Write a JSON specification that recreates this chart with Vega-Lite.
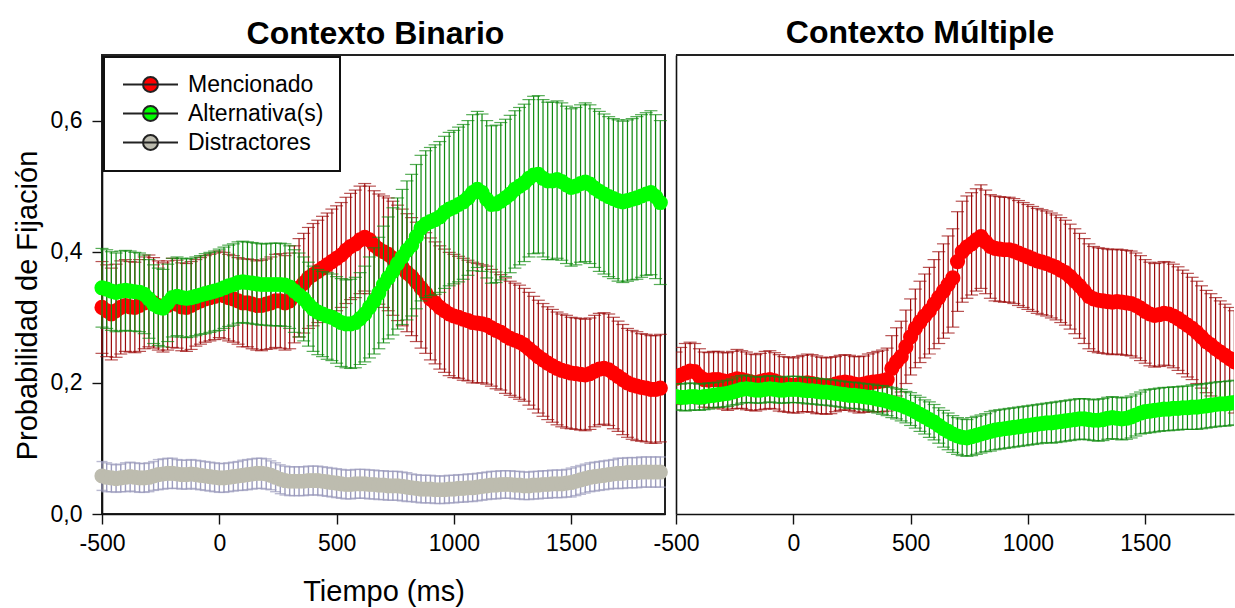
{
"$schema":"https://vega.github.io/schema/vega-lite/v6.json",
"padding":{"left":12,"top":17,"right":0,"bottom":4},
"bounds":"flush",
"spacing":11,
"config":{
"font":"Liberation Sans",
"view":{"stroke":"#222","strokeWidth":2},
"axis":{"grid":false,"domainColor":"#111","domainWidth":1.6,"tickColor":"#111","tickWidth":1.4,"tickSize":10,"labelFont":"Liberation Sans","labelFontSize":23,"labelColor":"#000","titleFont":"Liberation Sans","titleFontSize":29,"titleFontWeight":"normal","titleColor":"#000"},
"title":{"font":"Liberation Sans","fontSize":32,"fontWeight":"bold","color":"#000","offset":4,"anchor":"middle"},
"legend":{"strokeWidth":2,"symbolStrokeColor":"#222222","symbolStrokeWidth":2}
},
"datasets":{
"LM":[
{"t":-500,"m":0.315,"e":0.07},{"t":-480,"m":0.31,"e":0.07},{"t":-460,"m":0.305,"e":0.07},{"t":-440,"m":0.31,"e":0.071},{"t":-420,"m":0.315,"e":0.071},{"t":-400,"m":0.318,"e":0.07},{"t":-380,"m":0.316,"e":0.069},{"t":-360,"m":0.315,"e":0.069},{"t":-340,"m":0.318,"e":0.07},{"t":-320,"m":0.322,"e":0.07},
{"t":-300,"m":0.325,"e":0.07},{"t":-280,"m":0.322,"e":0.069},{"t":-260,"m":0.318,"e":0.068},{"t":-240,"m":0.315,"e":0.068},{"t":-220,"m":0.318,"e":0.068},{"t":-200,"m":0.322,"e":0.068},{"t":-180,"m":0.32,"e":0.067},{"t":-160,"m":0.316,"e":0.067},{"t":-140,"m":0.315,"e":0.067},{"t":-120,"m":0.318,"e":0.067},
{"t":-100,"m":0.322,"e":0.066},{"t":-80,"m":0.325,"e":0.066},{"t":-60,"m":0.328,"e":0.066},{"t":-40,"m":0.33,"e":0.066},{"t":-20,"m":0.332,"e":0.066},{"t":0,"m":0.335,"e":0.066},{"t":20,"m":0.333,"e":0.066},{"t":40,"m":0.33,"e":0.066},{"t":60,"m":0.328,"e":0.066},{"t":80,"m":0.325,"e":0.066},
{"t":100,"m":0.322,"e":0.067},{"t":120,"m":0.322,"e":0.067},{"t":140,"m":0.32,"e":0.068},{"t":160,"m":0.318,"e":0.068},{"t":180,"m":0.318,"e":0.069},{"t":200,"m":0.32,"e":0.069},{"t":220,"m":0.322,"e":0.07},{"t":240,"m":0.325,"e":0.071},{"t":260,"m":0.325,"e":0.072},{"t":280,"m":0.322,"e":0.072},
{"t":300,"m":0.325,"e":0.073},{"t":320,"m":0.335,"e":0.074},{"t":340,"m":0.345,"e":0.075},{"t":360,"m":0.352,"e":0.076},{"t":380,"m":0.36,"e":0.077},{"t":400,"m":0.365,"e":0.078},{"t":420,"m":0.37,"e":0.078},{"t":440,"m":0.375,"e":0.079},{"t":460,"m":0.38,"e":0.079},{"t":480,"m":0.385,"e":0.08},
{"t":500,"m":0.39,"e":0.08},{"t":520,"m":0.395,"e":0.08},{"t":540,"m":0.402,"e":0.081},{"t":560,"m":0.408,"e":0.081},{"t":580,"m":0.412,"e":0.082},{"t":600,"m":0.418,"e":0.082},{"t":620,"m":0.422,"e":0.082},{"t":640,"m":0.418,"e":0.082},{"t":660,"m":0.41,"e":0.083},{"t":680,"m":0.404,"e":0.084},
{"t":700,"m":0.4,"e":0.085},{"t":720,"m":0.396,"e":0.086},{"t":740,"m":0.39,"e":0.087},{"t":760,"m":0.383,"e":0.088},{"t":780,"m":0.376,"e":0.089},{"t":800,"m":0.368,"e":0.09},{"t":820,"m":0.362,"e":0.09},{"t":840,"m":0.354,"e":0.091},{"t":860,"m":0.345,"e":0.092},{"t":880,"m":0.337,"e":0.092},
{"t":900,"m":0.328,"e":0.093},{"t":920,"m":0.322,"e":0.093},{"t":940,"m":0.315,"e":0.094},{"t":960,"m":0.31,"e":0.094},{"t":980,"m":0.305,"e":0.094},{"t":1000,"m":0.302,"e":0.094},{"t":1020,"m":0.3,"e":0.093},{"t":1040,"m":0.297,"e":0.093},{"t":1060,"m":0.295,"e":0.092},{"t":1080,"m":0.292,"e":0.092},
{"t":1100,"m":0.291,"e":0.091},{"t":1120,"m":0.29,"e":0.09},{"t":1140,"m":0.288,"e":0.09},{"t":1160,"m":0.284,"e":0.089},{"t":1180,"m":0.28,"e":0.089},{"t":1200,"m":0.277,"e":0.088},{"t":1220,"m":0.272,"e":0.088},{"t":1240,"m":0.268,"e":0.087},{"t":1260,"m":0.265,"e":0.087},{"t":1280,"m":0.262,"e":0.087},
{"t":1300,"m":0.258,"e":0.086},{"t":1320,"m":0.252,"e":0.086},{"t":1340,"m":0.246,"e":0.086},{"t":1360,"m":0.24,"e":0.086},{"t":1380,"m":0.235,"e":0.086},{"t":1400,"m":0.23,"e":0.086},{"t":1420,"m":0.226,"e":0.086},{"t":1440,"m":0.222,"e":0.086},{"t":1460,"m":0.219,"e":0.086},{"t":1480,"m":0.217,"e":0.086},
{"t":1500,"m":0.215,"e":0.085},{"t":1520,"m":0.214,"e":0.085},{"t":1540,"m":0.213,"e":0.085},{"t":1560,"m":0.212,"e":0.085},{"t":1580,"m":0.214,"e":0.085},{"t":1600,"m":0.218,"e":0.085},{"t":1620,"m":0.221,"e":0.085},{"t":1640,"m":0.222,"e":0.085},{"t":1660,"m":0.22,"e":0.085},{"t":1680,"m":0.215,"e":0.085},
{"t":1700,"m":0.21,"e":0.084},{"t":1720,"m":0.205,"e":0.084},{"t":1740,"m":0.2,"e":0.083},{"t":1760,"m":0.197,"e":0.083},{"t":1780,"m":0.195,"e":0.083},{"t":1800,"m":0.193,"e":0.082},{"t":1820,"m":0.192,"e":0.082},{"t":1840,"m":0.19,"e":0.082},{"t":1860,"m":0.19,"e":0.082},{"t":1880,"m":0.192,"e":0.082}
],
"LA":[
{"t":-500,"m":0.345,"e":0.06},{"t":-480,"m":0.343,"e":0.06},{"t":-460,"m":0.34,"e":0.06},{"t":-440,"m":0.338,"e":0.06},{"t":-420,"m":0.34,"e":0.061},{"t":-400,"m":0.341,"e":0.061},{"t":-380,"m":0.34,"e":0.061},{"t":-360,"m":0.339,"e":0.06},{"t":-340,"m":0.338,"e":0.06},{"t":-320,"m":0.335,"e":0.06},
{"t":-300,"m":0.328,"e":0.06},{"t":-280,"m":0.32,"e":0.06},{"t":-260,"m":0.316,"e":0.059},{"t":-240,"m":0.314,"e":0.059},{"t":-220,"m":0.322,"e":0.059},{"t":-200,"m":0.33,"e":0.06},{"t":-180,"m":0.332,"e":0.06},{"t":-160,"m":0.33,"e":0.06},{"t":-140,"m":0.329,"e":0.06},{"t":-120,"m":0.33,"e":0.06},
{"t":-100,"m":0.332,"e":0.06},{"t":-80,"m":0.334,"e":0.06},{"t":-60,"m":0.336,"e":0.061},{"t":-40,"m":0.338,"e":0.061},{"t":-20,"m":0.34,"e":0.061},{"t":0,"m":0.342,"e":0.062},{"t":20,"m":0.345,"e":0.062},{"t":40,"m":0.348,"e":0.062},{"t":60,"m":0.35,"e":0.062},{"t":80,"m":0.353,"e":0.062},
{"t":100,"m":0.354,"e":0.062},{"t":120,"m":0.353,"e":0.062},{"t":140,"m":0.352,"e":0.062},{"t":160,"m":0.351,"e":0.062},{"t":180,"m":0.35,"e":0.062},{"t":200,"m":0.35,"e":0.062},{"t":220,"m":0.35,"e":0.063},{"t":240,"m":0.35,"e":0.063},{"t":260,"m":0.35,"e":0.063},{"t":280,"m":0.349,"e":0.063},
{"t":300,"m":0.346,"e":0.063},{"t":320,"m":0.34,"e":0.063},{"t":340,"m":0.334,"e":0.064},{"t":360,"m":0.328,"e":0.064},{"t":380,"m":0.32,"e":0.064},{"t":400,"m":0.313,"e":0.065},{"t":420,"m":0.308,"e":0.065},{"t":440,"m":0.305,"e":0.065},{"t":460,"m":0.302,"e":0.066},{"t":480,"m":0.3,"e":0.066},
{"t":500,"m":0.296,"e":0.066},{"t":520,"m":0.292,"e":0.067},{"t":540,"m":0.29,"e":0.067},{"t":560,"m":0.29,"e":0.068},{"t":580,"m":0.292,"e":0.069},{"t":600,"m":0.298,"e":0.07},{"t":620,"m":0.305,"e":0.073},{"t":640,"m":0.315,"e":0.077},{"t":660,"m":0.325,"e":0.081},{"t":680,"m":0.337,"e":0.085},
{"t":700,"m":0.35,"e":0.089},{"t":720,"m":0.36,"e":0.093},{"t":740,"m":0.37,"e":0.097},{"t":760,"m":0.382,"e":0.1},{"t":780,"m":0.392,"e":0.103},{"t":800,"m":0.402,"e":0.106},{"t":820,"m":0.41,"e":0.108},{"t":840,"m":0.423,"e":0.11},{"t":860,"m":0.436,"e":0.111},{"t":880,"m":0.442,"e":0.112},
{"t":900,"m":0.446,"e":0.113},{"t":920,"m":0.449,"e":0.114},{"t":940,"m":0.453,"e":0.115},{"t":960,"m":0.46,"e":0.116},{"t":980,"m":0.465,"e":0.117},{"t":1000,"m":0.468,"e":0.117},{"t":1020,"m":0.472,"e":0.118},{"t":1040,"m":0.476,"e":0.118},{"t":1060,"m":0.482,"e":0.118},{"t":1080,"m":0.49,"e":0.119},
{"t":1100,"m":0.495,"e":0.119},{"t":1120,"m":0.49,"e":0.12},{"t":1140,"m":0.48,"e":0.12},{"t":1160,"m":0.472,"e":0.12},{"t":1180,"m":0.473,"e":0.12},{"t":1200,"m":0.477,"e":0.12},{"t":1220,"m":0.482,"e":0.12},{"t":1240,"m":0.488,"e":0.12},{"t":1260,"m":0.495,"e":0.12},{"t":1280,"m":0.5,"e":0.12},
{"t":1300,"m":0.505,"e":0.12},{"t":1320,"m":0.512,"e":0.12},{"t":1340,"m":0.517,"e":0.12},{"t":1360,"m":0.518,"e":0.12},{"t":1380,"m":0.512,"e":0.12},{"t":1400,"m":0.508,"e":0.12},{"t":1420,"m":0.508,"e":0.12},{"t":1440,"m":0.51,"e":0.12},{"t":1460,"m":0.507,"e":0.12},{"t":1480,"m":0.502,"e":0.12},
{"t":1500,"m":0.498,"e":0.12},{"t":1520,"m":0.5,"e":0.12},{"t":1540,"m":0.504,"e":0.12},{"t":1560,"m":0.506,"e":0.121},{"t":1580,"m":0.503,"e":0.121},{"t":1600,"m":0.497,"e":0.121},{"t":1620,"m":0.492,"e":0.122},{"t":1640,"m":0.488,"e":0.122},{"t":1660,"m":0.484,"e":0.122},{"t":1680,"m":0.481,"e":0.122},
{"t":1700,"m":0.478,"e":0.123},{"t":1720,"m":0.476,"e":0.123},{"t":1740,"m":0.478,"e":0.123},{"t":1760,"m":0.48,"e":0.123},{"t":1780,"m":0.482,"e":0.124},{"t":1800,"m":0.485,"e":0.124},{"t":1820,"m":0.488,"e":0.124},{"t":1840,"m":0.49,"e":0.125},{"t":1860,"m":0.484,"e":0.125},{"t":1880,"m":0.475,"e":0.125}
],
"LD":[
{"t":-500,"m":0.058,"e":0.022},{"t":-480,"m":0.056,"e":0.022},{"t":-460,"m":0.055,"e":0.021},{"t":-440,"m":0.054,"e":0.021},{"t":-420,"m":0.055,"e":0.021},{"t":-400,"m":0.056,"e":0.022},{"t":-380,"m":0.057,"e":0.022},{"t":-360,"m":0.056,"e":0.022},{"t":-340,"m":0.055,"e":0.022},{"t":-320,"m":0.055,"e":0.022},
{"t":-300,"m":0.056,"e":0.022},{"t":-280,"m":0.058,"e":0.022},{"t":-260,"m":0.06,"e":0.023},{"t":-240,"m":0.061,"e":0.023},{"t":-220,"m":0.062,"e":0.023},{"t":-200,"m":0.062,"e":0.023},{"t":-180,"m":0.061,"e":0.022},{"t":-160,"m":0.06,"e":0.022},{"t":-140,"m":0.06,"e":0.022},{"t":-120,"m":0.061,"e":0.022},
{"t":-100,"m":0.06,"e":0.022},{"t":-80,"m":0.059,"e":0.022},{"t":-60,"m":0.058,"e":0.022},{"t":-40,"m":0.057,"e":0.022},{"t":-20,"m":0.056,"e":0.022},{"t":0,"m":0.055,"e":0.022},{"t":20,"m":0.055,"e":0.022},{"t":40,"m":0.056,"e":0.022},{"t":60,"m":0.057,"e":0.022},{"t":80,"m":0.058,"e":0.022},
{"t":100,"m":0.059,"e":0.023},{"t":120,"m":0.06,"e":0.023},{"t":140,"m":0.061,"e":0.023},{"t":160,"m":0.062,"e":0.023},{"t":180,"m":0.062,"e":0.023},{"t":200,"m":0.061,"e":0.023},{"t":220,"m":0.059,"e":0.022},{"t":240,"m":0.056,"e":0.022},{"t":260,"m":0.053,"e":0.022},{"t":280,"m":0.051,"e":0.022},
{"t":300,"m":0.05,"e":0.022},{"t":320,"m":0.05,"e":0.022},{"t":340,"m":0.05,"e":0.022},{"t":360,"m":0.05,"e":0.022},{"t":380,"m":0.051,"e":0.022},{"t":400,"m":0.051,"e":0.022},{"t":420,"m":0.051,"e":0.022},{"t":440,"m":0.05,"e":0.022},{"t":460,"m":0.049,"e":0.022},{"t":480,"m":0.048,"e":0.022},
{"t":500,"m":0.047,"e":0.022},{"t":520,"m":0.046,"e":0.022},{"t":540,"m":0.045,"e":0.022},{"t":560,"m":0.045,"e":0.022},{"t":580,"m":0.046,"e":0.022},{"t":600,"m":0.046,"e":0.022},{"t":620,"m":0.046,"e":0.022},{"t":640,"m":0.045,"e":0.022},{"t":660,"m":0.045,"e":0.022},{"t":680,"m":0.044,"e":0.022},
{"t":700,"m":0.044,"e":0.022},{"t":720,"m":0.043,"e":0.022},{"t":740,"m":0.043,"e":0.022},{"t":760,"m":0.043,"e":0.022},{"t":780,"m":0.042,"e":0.022},{"t":800,"m":0.041,"e":0.022},{"t":820,"m":0.04,"e":0.021},{"t":840,"m":0.039,"e":0.021},{"t":860,"m":0.038,"e":0.021},{"t":880,"m":0.038,"e":0.021},
{"t":900,"m":0.038,"e":0.021},{"t":920,"m":0.037,"e":0.021},{"t":940,"m":0.037,"e":0.021},{"t":960,"m":0.037,"e":0.021},{"t":980,"m":0.038,"e":0.021},{"t":1000,"m":0.038,"e":0.021},{"t":1020,"m":0.039,"e":0.021},{"t":1040,"m":0.039,"e":0.021},{"t":1060,"m":0.04,"e":0.021},{"t":1080,"m":0.04,"e":0.021},
{"t":1100,"m":0.041,"e":0.021},{"t":1120,"m":0.042,"e":0.021},{"t":1140,"m":0.043,"e":0.021},{"t":1160,"m":0.044,"e":0.021},{"t":1180,"m":0.044,"e":0.021},{"t":1200,"m":0.045,"e":0.021},{"t":1220,"m":0.045,"e":0.021},{"t":1240,"m":0.045,"e":0.021},{"t":1260,"m":0.044,"e":0.021},{"t":1280,"m":0.044,"e":0.021},
{"t":1300,"m":0.043,"e":0.021},{"t":1320,"m":0.043,"e":0.021},{"t":1340,"m":0.044,"e":0.021},{"t":1360,"m":0.044,"e":0.021},{"t":1380,"m":0.045,"e":0.021},{"t":1400,"m":0.045,"e":0.021},{"t":1420,"m":0.046,"e":0.021},{"t":1440,"m":0.046,"e":0.021},{"t":1460,"m":0.046,"e":0.021},{"t":1480,"m":0.047,"e":0.021},
{"t":1500,"m":0.048,"e":0.022},{"t":1520,"m":0.05,"e":0.022},{"t":1540,"m":0.052,"e":0.022},{"t":1560,"m":0.054,"e":0.022},{"t":1580,"m":0.056,"e":0.022},{"t":1600,"m":0.057,"e":0.022},{"t":1620,"m":0.058,"e":0.022},{"t":1640,"m":0.059,"e":0.022},{"t":1660,"m":0.06,"e":0.022},{"t":1680,"m":0.061,"e":0.022},
{"t":1700,"m":0.062,"e":0.023},{"t":1720,"m":0.062,"e":0.023},{"t":1740,"m":0.063,"e":0.023},{"t":1760,"m":0.063,"e":0.023},{"t":1780,"m":0.063,"e":0.023},{"t":1800,"m":0.064,"e":0.023},{"t":1820,"m":0.064,"e":0.023},{"t":1840,"m":0.064,"e":0.023},{"t":1860,"m":0.064,"e":0.023},{"t":1880,"m":0.064,"e":0.023}
],
"RM":[
{"t":-500,"m":0.207,"e":0.04},{"t":-480,"m":0.212,"e":0.042},{"t":-460,"m":0.215,"e":0.045},{"t":-440,"m":0.218,"e":0.044},{"t":-420,"m":0.217,"e":0.043},{"t":-400,"m":0.21,"e":0.042},{"t":-380,"m":0.205,"e":0.042},{"t":-360,"m":0.204,"e":0.042},{"t":-340,"m":0.205,"e":0.043},{"t":-320,"m":0.205,"e":0.043},
{"t":-300,"m":0.203,"e":0.043},{"t":-280,"m":0.202,"e":0.044},{"t":-260,"m":0.204,"e":0.044},{"t":-240,"m":0.206,"e":0.045},{"t":-220,"m":0.205,"e":0.044},{"t":-200,"m":0.203,"e":0.044},{"t":-180,"m":0.201,"e":0.043},{"t":-160,"m":0.2,"e":0.043},{"t":-140,"m":0.202,"e":0.043},{"t":-120,"m":0.204,"e":0.044},
{"t":-100,"m":0.205,"e":0.044},{"t":-80,"m":0.203,"e":0.043},{"t":-60,"m":0.2,"e":0.043},{"t":-40,"m":0.198,"e":0.042},{"t":-20,"m":0.197,"e":0.042},{"t":0,"m":0.196,"e":0.042},{"t":20,"m":0.197,"e":0.043},{"t":40,"m":0.199,"e":0.043},{"t":60,"m":0.2,"e":0.044},{"t":80,"m":0.199,"e":0.044},
{"t":100,"m":0.197,"e":0.044},{"t":120,"m":0.196,"e":0.043},{"t":140,"m":0.195,"e":0.043},{"t":160,"m":0.196,"e":0.043},{"t":180,"m":0.198,"e":0.042},{"t":200,"m":0.2,"e":0.042},{"t":220,"m":0.201,"e":0.042},{"t":240,"m":0.2,"e":0.042},{"t":260,"m":0.198,"e":0.042},{"t":280,"m":0.197,"e":0.043},
{"t":300,"m":0.198,"e":0.043},{"t":320,"m":0.2,"e":0.044},{"t":340,"m":0.201,"e":0.045},{"t":360,"m":0.202,"e":0.046},{"t":380,"m":0.203,"e":0.047},{"t":400,"m":0.205,"e":0.048},{"t":420,"m":0.222,"e":0.05},{"t":440,"m":0.232,"e":0.052},{"t":460,"m":0.24,"e":0.054},{"t":480,"m":0.255,"e":0.056},
{"t":500,"m":0.27,"e":0.058},{"t":520,"m":0.283,"e":0.06},{"t":540,"m":0.293,"e":0.062},{"t":560,"m":0.302,"e":0.064},{"t":580,"m":0.31,"e":0.066},{"t":600,"m":0.32,"e":0.068},{"t":620,"m":0.33,"e":0.07},{"t":640,"m":0.34,"e":0.072},{"t":660,"m":0.35,"e":0.074},{"t":680,"m":0.36,"e":0.075},
{"t":700,"m":0.385,"e":0.076},{"t":720,"m":0.4,"e":0.077},{"t":740,"m":0.407,"e":0.078},{"t":760,"m":0.412,"e":0.078},{"t":780,"m":0.418,"e":0.078},{"t":800,"m":0.423,"e":0.079},{"t":820,"m":0.415,"e":0.079},{"t":840,"m":0.408,"e":0.079},{"t":860,"m":0.405,"e":0.08},{"t":880,"m":0.404,"e":0.08},
{"t":900,"m":0.403,"e":0.08},{"t":920,"m":0.403,"e":0.08},{"t":940,"m":0.401,"e":0.08},{"t":960,"m":0.398,"e":0.08},{"t":980,"m":0.395,"e":0.08},{"t":1000,"m":0.392,"e":0.08},{"t":1020,"m":0.389,"e":0.08},{"t":1040,"m":0.386,"e":0.08},{"t":1060,"m":0.384,"e":0.08},{"t":1080,"m":0.382,"e":0.08},
{"t":1100,"m":0.379,"e":0.08},{"t":1120,"m":0.376,"e":0.08},{"t":1140,"m":0.372,"e":0.08},{"t":1160,"m":0.368,"e":0.08},{"t":1180,"m":0.362,"e":0.08},{"t":1200,"m":0.355,"e":0.08},{"t":1220,"m":0.348,"e":0.08},{"t":1240,"m":0.34,"e":0.08},{"t":1260,"m":0.332,"e":0.08},{"t":1280,"m":0.328,"e":0.08},
{"t":1300,"m":0.326,"e":0.08},{"t":1320,"m":0.325,"e":0.08},{"t":1340,"m":0.324,"e":0.08},{"t":1360,"m":0.323,"e":0.08},{"t":1380,"m":0.324,"e":0.08},{"t":1400,"m":0.323,"e":0.08},{"t":1420,"m":0.322,"e":0.08},{"t":1440,"m":0.321,"e":0.08},{"t":1460,"m":0.318,"e":0.08},{"t":1480,"m":0.314,"e":0.08},
{"t":1500,"m":0.309,"e":0.079},{"t":1520,"m":0.305,"e":0.079},{"t":1540,"m":0.303,"e":0.079},{"t":1560,"m":0.304,"e":0.079},{"t":1580,"m":0.306,"e":0.079},{"t":1600,"m":0.305,"e":0.079},{"t":1620,"m":0.302,"e":0.079},{"t":1640,"m":0.298,"e":0.079},{"t":1660,"m":0.293,"e":0.079},{"t":1680,"m":0.288,"e":0.079},
{"t":1700,"m":0.283,"e":0.078},{"t":1720,"m":0.277,"e":0.078},{"t":1740,"m":0.27,"e":0.078},{"t":1760,"m":0.263,"e":0.078},{"t":1780,"m":0.258,"e":0.078},{"t":1800,"m":0.252,"e":0.078},{"t":1820,"m":0.247,"e":0.078},{"t":1840,"m":0.242,"e":0.078},{"t":1860,"m":0.237,"e":0.078},{"t":1880,"m":0.232,"e":0.078}
],
"RA":[
{"t":-500,"m":0.179,"e":0.02},{"t":-480,"m":0.178,"e":0.02},{"t":-460,"m":0.178,"e":0.021},{"t":-440,"m":0.179,"e":0.021},{"t":-420,"m":0.179,"e":0.02},{"t":-400,"m":0.178,"e":0.02},{"t":-380,"m":0.179,"e":0.02},{"t":-360,"m":0.18,"e":0.02},{"t":-340,"m":0.181,"e":0.019},{"t":-320,"m":0.182,"e":0.019},
{"t":-300,"m":0.183,"e":0.02},{"t":-280,"m":0.184,"e":0.02},{"t":-260,"m":0.186,"e":0.02},{"t":-240,"m":0.188,"e":0.021},{"t":-220,"m":0.19,"e":0.021},{"t":-200,"m":0.191,"e":0.021},{"t":-180,"m":0.19,"e":0.02},{"t":-160,"m":0.189,"e":0.02},{"t":-140,"m":0.189,"e":0.02},{"t":-120,"m":0.19,"e":0.02},
{"t":-100,"m":0.191,"e":0.02},{"t":-80,"m":0.19,"e":0.02},{"t":-60,"m":0.189,"e":0.02},{"t":-40,"m":0.189,"e":0.02},{"t":-20,"m":0.19,"e":0.02},{"t":0,"m":0.19,"e":0.02},{"t":20,"m":0.19,"e":0.02},{"t":40,"m":0.189,"e":0.02},{"t":60,"m":0.188,"e":0.02},{"t":80,"m":0.188,"e":0.02},
{"t":100,"m":0.187,"e":0.02},{"t":120,"m":0.186,"e":0.02},{"t":140,"m":0.186,"e":0.02},{"t":160,"m":0.185,"e":0.02},{"t":180,"m":0.184,"e":0.02},{"t":200,"m":0.183,"e":0.02},{"t":220,"m":0.182,"e":0.02},{"t":240,"m":0.181,"e":0.02},{"t":260,"m":0.181,"e":0.02},{"t":280,"m":0.18,"e":0.02},
{"t":300,"m":0.179,"e":0.02},{"t":320,"m":0.178,"e":0.02},{"t":340,"m":0.177,"e":0.021},{"t":360,"m":0.175,"e":0.021},{"t":380,"m":0.174,"e":0.022},{"t":400,"m":0.172,"e":0.022},{"t":420,"m":0.17,"e":0.023},{"t":440,"m":0.168,"e":0.023},{"t":460,"m":0.166,"e":0.024},{"t":480,"m":0.163,"e":0.024},
{"t":500,"m":0.16,"e":0.025},{"t":520,"m":0.156,"e":0.025},{"t":540,"m":0.152,"e":0.026},{"t":560,"m":0.148,"e":0.026},{"t":580,"m":0.144,"e":0.027},{"t":600,"m":0.14,"e":0.027},{"t":620,"m":0.135,"e":0.027},{"t":640,"m":0.13,"e":0.028},{"t":660,"m":0.126,"e":0.028},{"t":680,"m":0.122,"e":0.028},
{"t":700,"m":0.119,"e":0.028},{"t":720,"m":0.117,"e":0.028},{"t":740,"m":0.116,"e":0.028},{"t":760,"m":0.118,"e":0.029},{"t":780,"m":0.12,"e":0.029},{"t":800,"m":0.122,"e":0.029},{"t":820,"m":0.124,"e":0.029},{"t":840,"m":0.126,"e":0.03},{"t":860,"m":0.128,"e":0.03},{"t":880,"m":0.129,"e":0.03},
{"t":900,"m":0.13,"e":0.03},{"t":920,"m":0.131,"e":0.03},{"t":940,"m":0.132,"e":0.03},{"t":960,"m":0.133,"e":0.03},{"t":980,"m":0.134,"e":0.03},{"t":1000,"m":0.135,"e":0.03},{"t":1020,"m":0.136,"e":0.03},{"t":1040,"m":0.137,"e":0.03},{"t":1060,"m":0.138,"e":0.03},{"t":1080,"m":0.139,"e":0.03},
{"t":1100,"m":0.139,"e":0.031},{"t":1120,"m":0.14,"e":0.031},{"t":1140,"m":0.141,"e":0.031},{"t":1160,"m":0.142,"e":0.031},{"t":1180,"m":0.143,"e":0.031},{"t":1200,"m":0.144,"e":0.031},{"t":1220,"m":0.145,"e":0.031},{"t":1240,"m":0.145,"e":0.031},{"t":1260,"m":0.144,"e":0.031},{"t":1280,"m":0.143,"e":0.031},
{"t":1300,"m":0.143,"e":0.032},{"t":1320,"m":0.144,"e":0.032},{"t":1340,"m":0.146,"e":0.032},{"t":1360,"m":0.147,"e":0.032},{"t":1380,"m":0.146,"e":0.032},{"t":1400,"m":0.145,"e":0.032},{"t":1420,"m":0.146,"e":0.032},{"t":1440,"m":0.148,"e":0.032},{"t":1460,"m":0.151,"e":0.032},{"t":1480,"m":0.154,"e":0.032},
{"t":1500,"m":0.156,"e":0.033},{"t":1520,"m":0.157,"e":0.033},{"t":1540,"m":0.158,"e":0.033},{"t":1560,"m":0.159,"e":0.033},{"t":1580,"m":0.16,"e":0.033},{"t":1600,"m":0.16,"e":0.033},{"t":1620,"m":0.161,"e":0.033},{"t":1640,"m":0.161,"e":0.033},{"t":1660,"m":0.162,"e":0.033},{"t":1680,"m":0.162,"e":0.033},
{"t":1700,"m":0.163,"e":0.034},{"t":1720,"m":0.163,"e":0.034},{"t":1740,"m":0.164,"e":0.034},{"t":1760,"m":0.165,"e":0.034},{"t":1780,"m":0.166,"e":0.034},{"t":1800,"m":0.167,"e":0.034},{"t":1820,"m":0.168,"e":0.034},{"t":1840,"m":0.168,"e":0.034},{"t":1860,"m":0.169,"e":0.034},{"t":1880,"m":0.17,"e":0.034}
]
},
"resolve":{"scale":{"x":"independent","y":"independent","color":"independent"}},
"hconcat":[
{
"width":563,"height":459,
"title":{"text":"Contexto Binario","dx":-8},
"encoding":{
"x":{"field":"t","type":"quantitative","scale":{"domain":[-500,1900],"nice":false,"zero":false},"axis":{"title":"Tiempo (ms)","values":[-500,0,500,1000,1500],"labelExpr":"'' + datum.value","labelFlush":false,"labelPadding":8,"titlePadding":22}},
"y":{"field":"m","type":"quantitative","scale":{"domain":[0,0.7],"nice":false,"zero":false},"axis":{"title":"Probabilidad de Fijación","values":[0,0.2,0.4,0.6],"labelExpr":"replace(format(datum.value, '.1f'), '.', ',')","labelPadding":10,"titlePadding":8,"titleY":250}}
},
"layer":[
{"data":{"name":"LD"},"mark":{"type":"errorbar","color":"#9c9cbd","thickness":1.4,"ticks":{"size":11}},"encoding":{"yError":{"field":"e"}}},
{"data":{"name":"LD"},"mark":{"type":"circle","size":230,"opacity":1},"encoding":{"color":{"datum":"Distractores","scale":{"domain":["Mencionado","Alternativa(s)","Distractores"],"range":["#ff0000","#00ff00","#bdbcaf"]},"legend":{"orient":"top-left","offset":2,"title":null,"padding":16,"strokeColor":"#111","fillColor":"#ffffff","labelFont":"Liberation Sans","labelFontSize":23,"labelColor":"#000","labelOffset":26,"symbolOffset":19,"rowPadding":5,"symbolType":"M -3.67 0 L 3.67 0 M -1 0 A 1 1 0 1 0 1 0 A 1 1 0 1 0 -1 0 Z","symbolSize":225,"symbolOpacity":1,"symbolStrokeColor":"#222222","symbolStrokeWidth":2,"encode":{"symbols":{"update":{"stroke":{"value":"#222222"},"strokeWidth":{"value":2}}}}}}}},
{"data":{"name":"LM"},"mark":{"type":"errorbar","color":"#9b0a0a","thickness":1.2,"ticks":{"size":13}},"encoding":{"yError":{"field":"e"}}},
{"data":{"name":"LM"},"mark":{"type":"circle","size":230,"opacity":1},"encoding":{"color":{"datum":"Mencionado"}}},
{"data":{"name":"LA"},"mark":{"type":"errorbar","color":"#0e8a0e","thickness":1.2,"ticks":{"size":13}},"encoding":{"yError":{"field":"e"}}},
{"data":{"name":"LA"},"mark":{"type":"circle","size":230,"opacity":1},"encoding":{"color":{"datum":"Alternativa(s)"}}}
]
},
{
"width":558,"height":459,
"view":{"stroke":null},
"title":{"text":"Contexto Múltiple","dx":-35},
"layer":[
{"data":{"values":[{}]},"mark":{"type":"rule","color":"#222","strokeWidth":2},"encoding":{"y":{"datum":0.7,"type":"quantitative","scale":{"domain":[0,0.7],"nice":false,"zero":false},"axis":{"title":null,"labels":false,"ticks":false,"values":[0,0.2,0.4,0.6]}}}},
{
"encoding":{
"x":{"field":"t","type":"quantitative","scale":{"domain":[-500,1878.5],"nice":false,"zero":false},"axis":{"title":null,"values":[-500,0,500,1000,1500],"labelExpr":"'' + datum.value","labelFlush":false,"labelPadding":8}},
"y":{"field":"m","type":"quantitative","scale":{"domain":[0,0.7],"nice":false,"zero":false},"axis":{"title":null,"labels":false,"ticks":false,"values":[0,0.2,0.4,0.6]}}
},
"layer":[
{"data":{"name":"RM"},"mark":{"type":"errorbar","color":"#9b0a0a","thickness":1.2,"ticks":{"size":13},"clip":true},"encoding":{"yError":{"field":"e"}}},
{"data":{"name":"RM"},"mark":{"type":"circle","size":230,"opacity":1,"clip":true},"encoding":{"color":{"datum":"Mencionado","scale":{"domain":["Mencionado","Alternativa(s)","Distractores"],"range":["#ff0000","#00ff00","#bdbcaf"]},"legend":null}}},
{"data":{"name":"RA"},"mark":{"type":"errorbar","color":"#0e8a0e","thickness":1.2,"ticks":{"size":13},"clip":true},"encoding":{"yError":{"field":"e"}}},
{"data":{"name":"RA"},"mark":{"type":"circle","size":230,"opacity":1,"clip":true},"encoding":{"color":{"datum":"Alternativa(s)"}}}
]
}
]
}
]
}
